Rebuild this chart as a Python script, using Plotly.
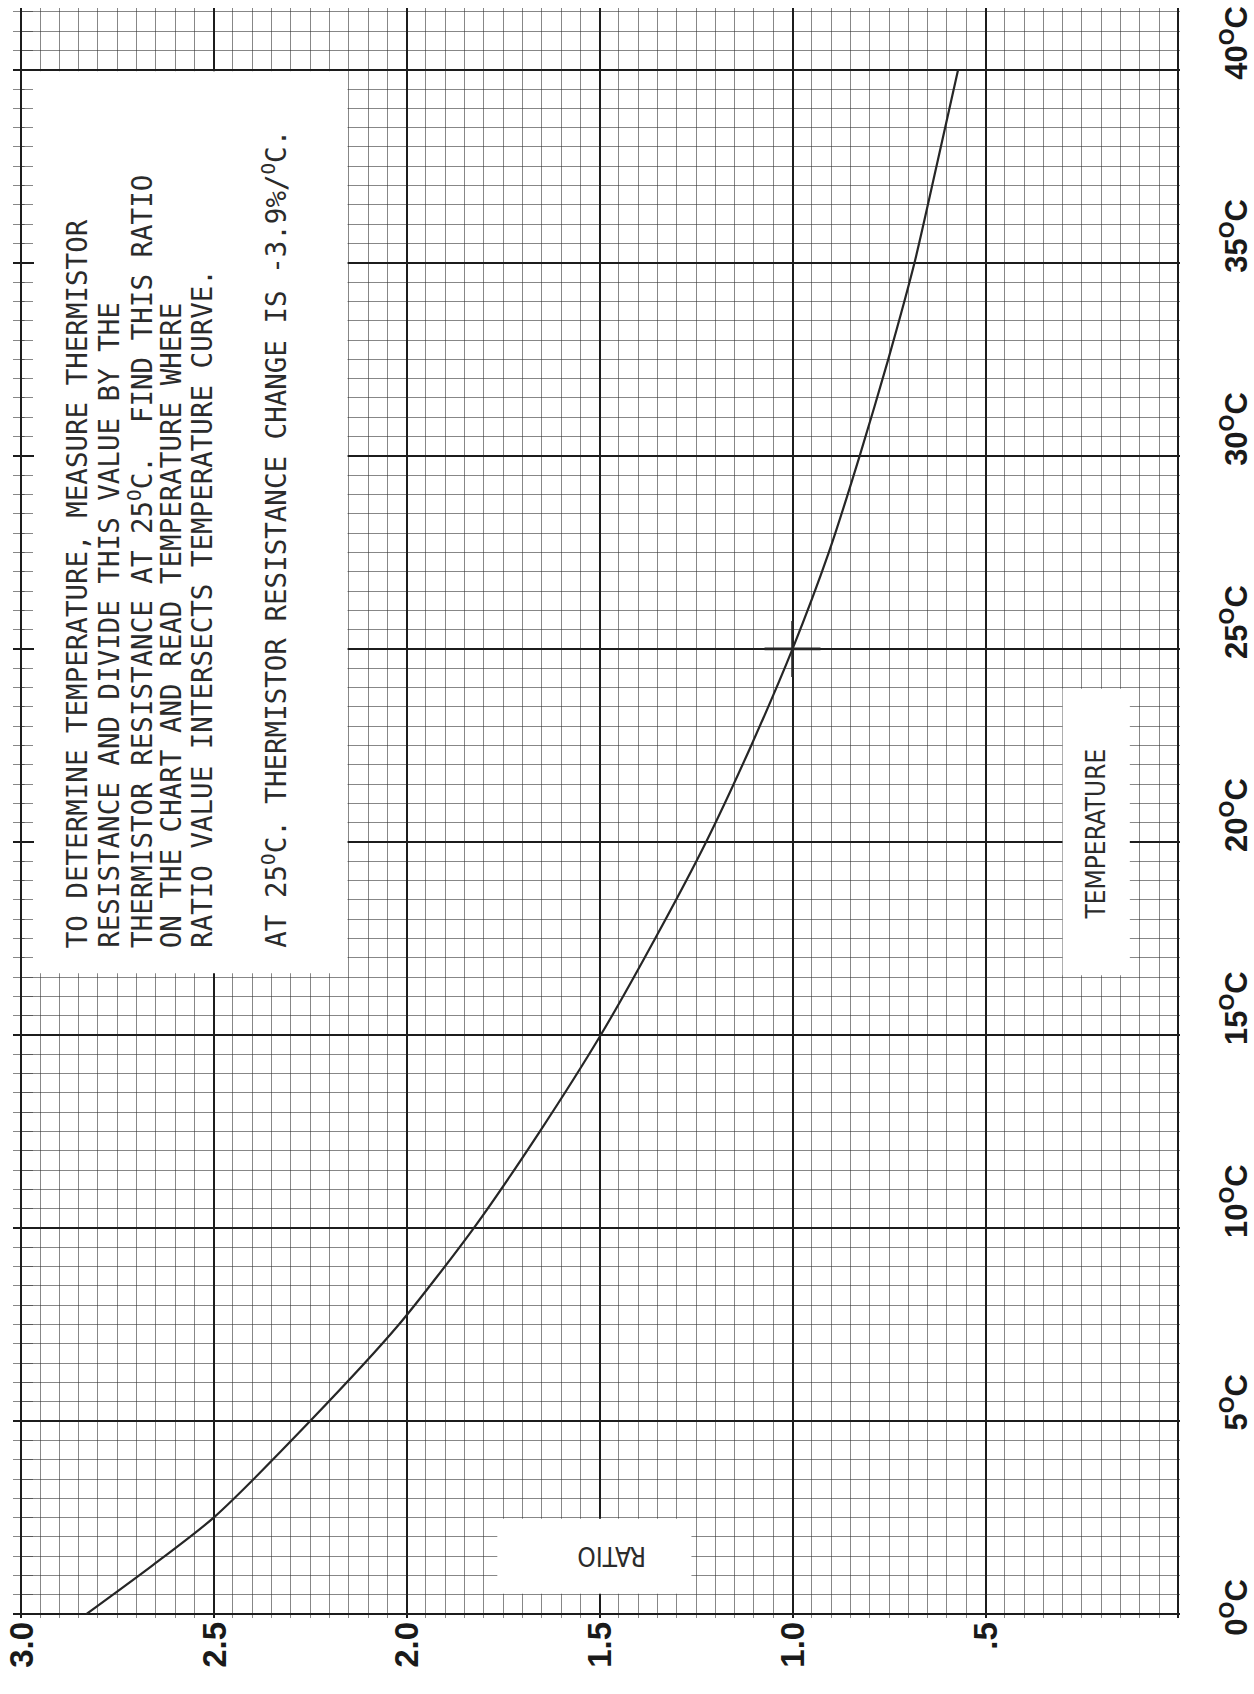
import plotly.graph_objects as go

# Resistance ratio R(T)/R(25 C) of the thermistor
temperature_c = [0, 1.25, 2.5, 5, 7.5, 10, 12.5, 15, 17.5, 20, 22.5, 25,
                 27.5, 30, 32.5, 35, 37.5, 40]
resistance_ratio = [2.83, 2.66, 2.50, 2.25, 2.02, 1.826, 1.655, 1.497, 1.356,
                    1.224, 1.107, 1.00, 0.906, 0.826, 0.752, 0.684, 0.627, 0.571]

# Reference point marked on the curve
ref_temp = [25]
ref_ratio = [1.0]

# Axis labels
ratio_ticks = [3.0, 2.5, 2.0, 1.5, 1.0, 0.5]
ratio_labels = ["3.0", "2.5", "2.0", "1.5", "1.0", ".5"]
temp_ticks = [0, 5, 10, 15, 20, 25, 30, 35, 40]
temp_labels = [f"{t}<sup>O</sup>C" for t in temp_ticks]

note_lines = [
    "TO DETERMINE TEMPERATURE, MEASURE THERMISTOR",
    "RESISTANCE AND DIVIDE THIS VALUE BY THE",
    "THERMISTOR RESISTANCE AT 25<sup>O</sup>C.  FIND THIS RATIO",
    "ON THE CHART AND READ TEMPERATURE WHERE",
    "RATIO VALUE INTERSECTS TEMPERATURE CURVE.",
    "AT 25<sup>O</sup>C. THERMISTOR RESISTANCE CHANGE IS -3.9%/<sup>O</sup>C.",
]
note_columns = [2.855, 2.772, 2.690, 2.610, 2.532, 2.342]

MAJOR = "#1c1c1c"
MINOR = "rgba(55,55,55,0.6)"
INK = "#2b2b2b"

# Plot-area geometry (pixels) and axis ranges
W, H = 1254, 1694
ML, MR, MT, MB = 13, 74, 8, 76
X_RANGE = [3.02, -0.004]
Y_RANGE = [-0.1, 41.6]
PW = W - ML - MR
PH = H - MT - MB


def x_px(r):
    return ML + (X_RANGE[0] - r) / (X_RANGE[0] - X_RANGE[1]) * PW


def y_px(t):
    return MT + (Y_RANGE[1] - t) / (Y_RANGE[1] - Y_RANGE[0]) * PH


def paper_x(px):
    return (px - ML) / PW


def paper_y(py):
    return (H - MB - py) / PH


fig = go.Figure()

fig.add_trace(go.Scatter(
    x=resistance_ratio, y=temperature_c, mode="lines",
    line=dict(color="#262626", width=2.2, shape="spline", smoothing=0.7),
    hoverinfo="skip", showlegend=False,
))
fig.add_trace(go.Scatter(
    x=ref_ratio, y=ref_temp, mode="markers",
    marker=dict(symbol="cross-thin", size=40,
                line=dict(color="#262626", width=2.6)),
    hoverinfo="skip", showlegend=False,
))

# Blank label panels cut out of the graph paper
white_boxes = [
    dict(x0=2.99, x1=2.153, y0=16.6, y1=39.96),
    dict(x0=0.300, x1=0.126, y0=16.55, y1=23.97),
    dict(x0=1.765, x1=1.262, y0=0.53, y1=2.47),
]
shapes = [
    dict(type="rect", xref="x", yref="y", layer="between",
         fillcolor="white", line=dict(width=0), **b)
    for b in white_boxes
]

annotations = []
for xc, line in zip(note_columns, note_lines):
    annotations.append(dict(
        x=xc, y=17.2, xref="x", yref="y", text=line, showarrow=False,
        textangle=-90, xanchor="center", yanchor="bottom",
        font=dict(family="DejaVu Sans Mono, Liberation Mono, monospace",
                  size=27.5, color=INK),
    ))

annotations.append(dict(
    x=0.213, y=20.2, xref="x", yref="y", text="TEMPERATURE", showarrow=False,
    textangle=-90, xanchor="center", yanchor="middle",
    font=dict(family="Liberation Sans Narrow, DejaVu Sans Condensed, sans-serif",
              size=26, color=INK),
))
annotations.append(dict(
    x=1.469, y=1.5, xref="x", yref="y", text="RATIO", showarrow=False,
    textangle=180, xanchor="center", yanchor="middle",
    font=dict(family="Liberation Sans Narrow, DejaVu Sans Condensed, sans-serif",
              size=26, color=INK),
))

label_font = dict(family="Liberation Sans, Arial, sans-serif",
                  color="#1a1a1a", weight="bold")

for v, lab in zip(ratio_ticks, ratio_labels):
    annotations.append(dict(
        x=v, y=paper_y(y_px(0) + 6), xref="x", yref="paper", text=lab,
        showarrow=False, textangle=-90, xanchor="center", yanchor="top",
        font=dict(size=33, **label_font),
    ))

for t, lab in zip(temp_ticks, temp_labels):
    offset = 24 if t == 0 else 12
    annotations.append(dict(
        x=paper_x(1234), y=paper_y(y_px(t) + offset),
        xref="paper", yref="paper", text=lab, showarrow=False,
        textangle=-90, xanchor="center", yanchor="bottom",
        font=dict(size=31, **label_font),
    ))

fig.update_layout(
    width=W, height=H,
    margin=dict(l=ML, r=MR, t=MT, b=MB),
    paper_bgcolor="white", plot_bgcolor="white",
    showlegend=False,
    shapes=shapes, annotations=annotations,
    xaxis=dict(
        range=X_RANGE, tick0=0, dtick=0.5,
        showgrid=True, gridcolor=MAJOR, gridwidth=1.8,
        minor=dict(tick0=0, dtick=0.05, showgrid=True,
                   gridcolor=MINOR, gridwidth=1),
        showticklabels=False, zeroline=False, ticks="", showline=False,
    ),
    # the temperature axis sits on the 3.0 ratio rule, with short
    # inward stubs that stay visible across the note panel
    yaxis=dict(
        range=Y_RANGE, tick0=0, dtick=5,
        anchor="free", position=paper_x(x_px(3.0)), side="left",
        showgrid=True, gridcolor=MAJOR, gridwidth=1.8,
        ticks="inside", ticklen=12, tickcolor=MAJOR, tickwidth=1.6,
        minor=dict(tick0=0, dtick=0.5, showgrid=True,
                   gridcolor=MINOR, gridwidth=1,
                   ticks="inside", ticklen=11, tickcolor=MINOR,
                   tickwidth=1),
        showticklabels=False, zeroline=False, showline=False,
    ),
)

fig.write_html("out.html")
